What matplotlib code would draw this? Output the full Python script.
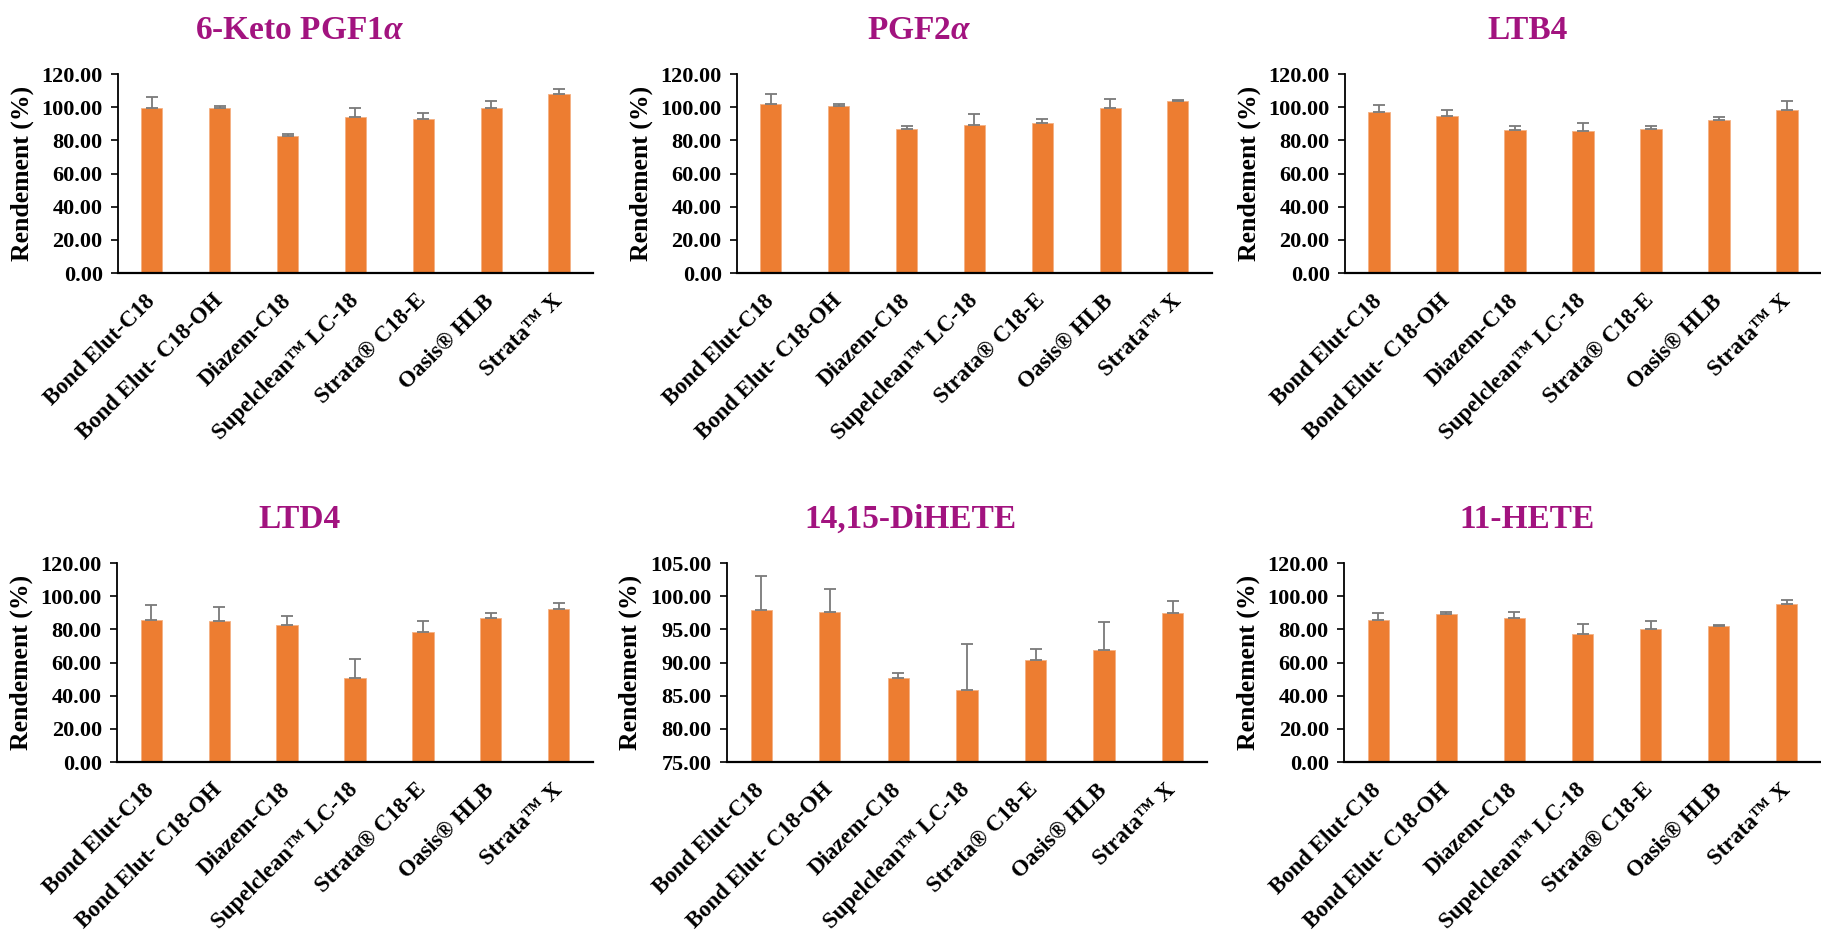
import numpy as np
import matplotlib
matplotlib.use('Agg')
import matplotlib.pyplot as plt
from matplotlib.ticker import FormatStrFormatter, MultipleLocator

plt.rcParams['font.family'] = ['Liberation Serif', 'DejaVu Serif']
plt.rcParams['font.weight'] = 'bold'
plt.rcParams['mathtext.fontset'] = 'custom'
plt.rcParams['mathtext.it'] = 'Liberation Serif:italic:bold'
plt.rcParams['mathtext.rm'] = 'Liberation Serif:bold'

# Cartouches SPE testées
cartouches = ['Bond Elut-C18', 'Bond Elut- C18-OH', 'Diazem-C18', 'Supelclean\u2122 LC-18',
              'Strata\u00ae C18-E', 'Oasis\u00ae HLB', 'Strata\u2122 X']

# Rendements moyens (%) et écarts-types
keto_pgf1a = [99.8, 99.8, 82.9, 94.2, 93.0, 99.4, 108.2]
keto_pgf1a_sd = [6.4, 1.0, 1.2, 5.2, 3.8, 4.2, 2.8]

pgf2a = [101.7, 100.5, 86.9, 89.1, 90.7, 99.5, 103.8]
pgf2a_sd = [6.5, 1.4, 1.8, 7.0, 2.4, 5.5, 0.8]

ltb4 = [97.0, 95.0, 86.1, 85.5, 87.1, 92.0, 98.6]
ltb4_sd = [4.2, 3.6, 2.7, 4.7, 1.7, 2.2, 5.2]

ltd4 = [85.9, 84.9, 82.9, 50.8, 78.5, 87.1, 92.5]
ltd4_sd = [8.6, 8.6, 5.0, 11.6, 6.6, 2.8, 3.2]

dihete = [97.98, 97.63, 87.69, 85.84, 90.45, 91.86, 97.53]
dihete_sd = [5.0, 3.5, 0.7, 6.9, 1.6, 4.2, 1.7]

hete11 = [85.5, 89.1, 87.1, 77.1, 80.1, 81.9, 95.5]
hete11_sd = [4.4, 1.2, 3.2, 6.4, 5.0, 1.0, 2.2]

panneaux = [
    ('6-Keto PGF1$\\mathit{\\alpha}$', keto_pgf1a, keto_pgf1a_sd, (0, 120, 20)),
    ('PGF2$\\mathit{\\alpha}$', pgf2a, pgf2a_sd, (0, 120, 20)),
    ('LTB4', ltb4, ltb4_sd, (0, 120, 20)),
    ('LTD4', ltd4, ltd4_sd, (0, 120, 20)),
    ('14,15-DiHETE', dihete, dihete_sd, (75, 105, 5)),
    ('11-HETE', hete11, hete11_sd, (0, 120, 20)),
]

# positions des axes [gauche, bas, largeur, hauteur] en fraction de figure
positions = [
    [0.0648, 0.708, 0.2608, 0.2128],
    [0.4047, 0.708, 0.2608, 0.2128],
    [0.7386, 0.708, 0.2614, 0.2128],
    [0.0643, 0.185, 0.2613, 0.2128],
    [0.3992, 0.185, 0.2636, 0.2128],
    [0.7381, 0.185, 0.2619, 0.2128],
]

fig = plt.figure(figsize=(18.21, 9.35), dpi=100)

for (titre, valeurs, sd, (ymin, ymax, pas)), pos in zip(panneaux, positions):
    ax = fig.add_axes(pos)
    x = np.arange(len(cartouches))
    ax.bar(x, valeurs, width=0.31, color='#ED7D31', edgecolor='#F4B183', linewidth=0.6,
           yerr=[np.zeros(len(sd)), sd], error_kw=dict(ecolor='#7A7A7A', elinewidth=1.3,
                                                       capsize=4, capthick=1.3))
    ax.set_xlim(-0.5, len(cartouches) - 0.5)
    ax.set_ylim(ymin, ymax)
    ax.yaxis.set_major_locator(MultipleLocator(pas))
    ax.yaxis.set_major_formatter(FormatStrFormatter('%.2f'))
    ax.set_xticks(x)
    ax.set_xticklabels(cartouches, rotation=45, ha='right', va='center',
                       rotation_mode='anchor', fontsize=16.5, fontweight='bold')
    ax.tick_params(axis='x', length=0, pad=18)
    ax.tick_params(axis='y', length=5, width=1.2, labelsize=16, pad=6)
    for lab in ax.get_yticklabels():
        lab.set_fontweight('bold')
    ax.spines['top'].set_visible(False)
    ax.spines['right'].set_visible(False)
    ax.spines['left'].set_linewidth(1.3)
    ax.spines['bottom'].set_linewidth(1.6)
    ax.set_ylabel('Rendement (%)', fontsize=18.5, fontweight='bold')
    ax.yaxis.set_label_coords(-0.176, 0.5)
    ax.text(0.383, 1.22, titre, transform=ax.transAxes, ha='center', va='center',
            fontsize=24, fontweight='bold', color='#A2137F')

fig.savefig('out.png', dpi=100)
